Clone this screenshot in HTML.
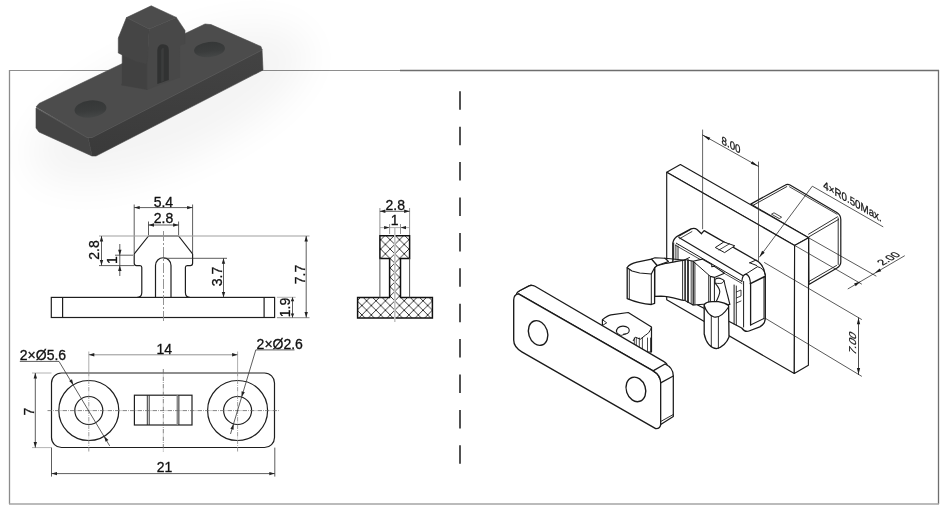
<!DOCTYPE html><html><head><meta charset="utf-8"><style>html,body{margin:0;padding:0;background:#fff;overflow:hidden}svg{display:block;will-change:transform}</style></head><body><svg width="952" height="518" viewBox="0 0 952 518"><rect x="0" y="0" width="952" height="518" fill="#fff"/><line x1="9.5" y1="70" x2="9.5" y2="504" stroke="#8c8c8c" stroke-width="1.3"/><line x1="9" y1="70.5" x2="400" y2="70.5" stroke="#8e8e8e" stroke-width="1.2"/><line x1="400" y1="70.5" x2="939" y2="70.5" stroke="#6e6e6e" stroke-width="1.3"/><line x1="938.5" y1="70" x2="938.5" y2="504" stroke="#6e6e6e" stroke-width="1.3"/><line x1="9" y1="503.9" x2="939" y2="503.9" stroke="#a4a4a4" stroke-width="1.5"/><defs><filter id="blur8" x="-50%" y="-50%" width="200%" height="200%"><feGaussianBlur stdDeviation="20"/></filter><linearGradient id="pf" x1="0" y1="0" x2="0" y2="1"><stop offset="0" stop-color="#434343"/><stop offset="1" stop-color="#3a3a3a"/></linearGradient><linearGradient id="hole" x1="0" y1="0" x2="0" y2="1"><stop offset="0" stop-color="#353737"/><stop offset="0.6" stop-color="#3a3c3c"/><stop offset="1" stop-color="#454747"/></linearGradient></defs><ellipse cx="170" cy="105" rx="150" ry="55" fill="#000" opacity="0.045" filter="url(#blur8)" transform="rotate(-24 170 105)"/><g><polygon points="36,108 88,137 92,156 39,132 36,128" fill="#444444" stroke="#444444" stroke-width="0.6" stroke-linejoin="round"/><polygon points="88,137 262,49 263,70 96,156 92,156" fill="url(#pf)" stroke="#434343" stroke-width="0.6"/><polygon points="36,107 39,103.5 205,24 211,24.6 261,46.5 262,50 92,137 87,137" fill="#4c4c4c" stroke="#4c4c4c" stroke-width="0.6" stroke-linejoin="round"/><polyline points="37,108.5 87,137.5 92,137.5 262,50" fill="none" stroke="#595959" stroke-width="0.9"/><ellipse cx="90.5" cy="109" rx="16" ry="8.6" fill="url(#hole)" transform="rotate(-6 90.5 109)"/><ellipse cx="209.5" cy="49.5" rx="15.5" ry="7.6" fill="url(#hole)" transform="rotate(-6 209.5 49.5)"/><polygon points="122.2,52 147.2,58 147.2,89.5 121.5,85 122.2,83" fill="#414141" stroke="#414141" stroke-width="0.6" stroke-linejoin="round"/><polygon points="149.2,29 176.3,17.4 185,30.5 185,43.5 180,45.5 179.6,77.3 147.2,89.5 147.2,60" fill="#484848" stroke="#484848" stroke-width="0.6" stroke-linejoin="round"/><polygon points="126.5,17.6 149.2,29 147.5,59 146,63.8 135,61 118.3,53 118.3,38" fill="#454545" stroke="#454545" stroke-width="0.6" stroke-linejoin="round"/><polygon points="126.5,17.6 151.2,5.8 176.3,17.4 149.2,29" fill="#4c4c4c" stroke="#4c4c4c" stroke-width="0.6" stroke-linejoin="round"/><path d="M157.3,84 L157.3,50 Q157.8,44.2 163,44.2 Q168.8,44.4 168.8,50 L168.8,80 Z" fill="#313232"/><path d="M161.2,82 L161.2,50 Q162,47.5 163.8,48.2 L163.8,81 Z" fill="#3b3c3c"/></g><line x1="460" y1="91.3" x2="460" y2="464.5" stroke="#4a4a4a" stroke-width="1.9" stroke-dasharray="18.5 16.9"/><g><path d="M136.7,297.5 Q141.8,297.5 141.8,292.5 L141.8,267.5 Q141.8,265.6 140,265.6 L136.5,265.6 Q134.2,265.6 134.2,263.3 L134.2,254 L148.5,236 L178.6,236 L192.6,254 L192.6,263.3 Q192.6,265.6 190.3,265.6 L187.2,265.6 Q185.4,265.6 185.4,267.5 L185.4,292.5 Q185.4,297.5 190.4,297.5" fill="none" stroke="#1e1e1e" stroke-width="1.2"/><path d="M155.5,297.5 L155.5,265.5 A7.75,7.75 0 0 1 171,265.5 L171,297.5" fill="none" stroke="#1e1e1e" stroke-width="1.2"/><rect x="51.3" y="297.4" width="223.3" height="20.1" fill="none" stroke="#1e1e1e" stroke-width="1.2"/><line x1="62.60" y1="297.40" x2="62.60" y2="317.50" stroke="#1e1e1e" stroke-width="1.2" /><line x1="264.10" y1="297.40" x2="264.10" y2="317.50" stroke="#1e1e1e" stroke-width="1.2" /><line x1="163.50" y1="231.00" x2="163.50" y2="322.00" stroke="#888" stroke-width="0.9" stroke-dasharray="10 2 2 2"/><line x1="134.20" y1="204.50" x2="134.20" y2="253.00" stroke="#333" stroke-width="0.8" /><line x1="192.60" y1="204.50" x2="192.60" y2="253.00" stroke="#333" stroke-width="0.8" /><line x1="134.20" y1="207.60" x2="192.60" y2="207.60" stroke="#333" stroke-width="0.8" /><polygon points="134.20,207.60 139.70,205.90 139.70,209.30" fill="#222"/><polygon points="192.60,207.60 187.10,209.30 187.10,205.90" fill="#222"/><text x="163.4" y="206.8" font-size="14" text-anchor="middle" font-family="Liberation Sans, sans-serif" fill="#111" stroke="#111" stroke-width="0.3" >5.4</text><line x1="148.50" y1="221.50" x2="148.50" y2="235.00" stroke="#333" stroke-width="0.8" /><line x1="178.60" y1="221.50" x2="178.60" y2="235.00" stroke="#333" stroke-width="0.8" /><line x1="148.50" y1="225.00" x2="178.60" y2="225.00" stroke="#333" stroke-width="0.8" /><polygon points="148.50,225.00 154.00,223.30 154.00,226.70" fill="#222"/><polygon points="178.60,225.00 173.10,226.70 173.10,223.30" fill="#222"/><text x="163.5" y="222.6" font-size="14" text-anchor="middle" font-family="Liberation Sans, sans-serif" fill="#111" stroke="#111" stroke-width="0.3" >2.8</text><line x1="99.00" y1="236.00" x2="309.50" y2="236.00" stroke="#a0a0a0" stroke-width="1.1" /><line x1="99.00" y1="265.60" x2="134.00" y2="265.60" stroke="#333" stroke-width="0.8" /><line x1="101.50" y1="236.00" x2="101.50" y2="265.60" stroke="#333" stroke-width="0.8" /><polygon points="101.50,236.00 103.20,241.50 99.80,241.50" fill="#222"/><polygon points="101.50,265.60 99.80,260.10 103.20,260.10" fill="#222"/><text x="0" y="0" font-size="14" text-anchor="middle" font-family="Liberation Sans, sans-serif" fill="#111" stroke="#111" stroke-width="0.3" transform="translate(99.3,250) rotate(-90)">2.8</text><line x1="115.00" y1="255.20" x2="133.00" y2="255.20" stroke="#333" stroke-width="0.8" /><line x1="119.80" y1="244.00" x2="119.80" y2="276.00" stroke="#333" stroke-width="0.8" /><polygon points="119.80,255.20 118.10,249.70 121.50,249.70" fill="#222"/><polygon points="119.80,265.60 121.50,271.10 118.10,271.10" fill="#222"/><text x="0" y="0" font-size="14" text-anchor="middle" font-family="Liberation Sans, sans-serif" fill="#111" stroke="#111" stroke-width="0.3" transform="translate(116.8,260) rotate(-90)">1</text><line x1="163.50" y1="258.30" x2="227.00" y2="258.30" stroke="#333" stroke-width="0.8" /><line x1="223.50" y1="258.30" x2="223.50" y2="297.50" stroke="#333" stroke-width="0.8" /><polygon points="223.50,258.30 225.20,263.80 221.80,263.80" fill="#222"/><polygon points="223.50,297.50 221.80,292.00 225.20,292.00" fill="#222"/><text x="0" y="0" font-size="14" text-anchor="middle" font-family="Liberation Sans, sans-serif" fill="#111" stroke="#111" stroke-width="0.3" transform="translate(222.2,276.5) rotate(-90)">3.7</text><line x1="276.90" y1="317.60" x2="309.50" y2="317.60" stroke="#a0a0a0" stroke-width="1.1" /><line x1="306.20" y1="236.00" x2="306.20" y2="317.60" stroke="#333" stroke-width="0.8" /><polygon points="306.20,236.00 307.90,241.50 304.50,241.50" fill="#222"/><polygon points="306.20,317.60 304.50,312.10 307.90,312.10" fill="#222"/><text x="0" y="0" font-size="14" text-anchor="middle" font-family="Liberation Sans, sans-serif" fill="#111" stroke="#111" stroke-width="0.3" transform="translate(304.6,274.5) rotate(-90)">7.7</text><line x1="276.90" y1="297.30" x2="295.60" y2="297.30" stroke="#a0a0a0" stroke-width="0.8" /><line x1="292.50" y1="297.30" x2="292.50" y2="317.60" stroke="#333" stroke-width="0.8" /><polygon points="292.50,297.30 294.20,301.30 290.80,301.30" fill="#222"/><polygon points="292.50,317.60 290.80,313.60 294.20,313.60" fill="#222"/><text x="0" y="0" font-size="14" text-anchor="middle" font-family="Liberation Sans, sans-serif" fill="#111" stroke="#111" stroke-width="0.3" transform="translate(289.6,307.5) rotate(-90)">1.9</text></g><g><defs><pattern id="hatch" patternUnits="userSpaceOnUse" width="9.4" height="9.4"><path d="M0,0 L9.4,9.4 M9.4,0 L0,9.4" stroke="#222" stroke-width="0.9"/></pattern></defs><path d="M379.9,235.8 L409.6,235.8 L409.6,258.4 L400.5,258.4 L400.5,297.4 L432.4,297.4 L432.4,317.9 L357.6,317.9 L357.6,297.4 L389.6,297.4 L389.6,258.4 L379.9,258.4 Z" fill="url(#hatch)" stroke="#111" stroke-width="1.5"/><line x1="379.90" y1="258.40" x2="379.90" y2="297.40" stroke="#555" stroke-width="1.0" /><line x1="409.60" y1="258.40" x2="409.60" y2="297.40" stroke="#555" stroke-width="1.0" /><line x1="394.80" y1="228.00" x2="394.80" y2="322.00" stroke="#c4c4c4" stroke-width="1.6" /><line x1="379.90" y1="208.00" x2="379.90" y2="235.00" stroke="#777" stroke-width="0.8" /><line x1="409.60" y1="208.00" x2="409.60" y2="235.00" stroke="#777" stroke-width="0.8" /><line x1="379.90" y1="211.30" x2="409.60" y2="211.30" stroke="#333" stroke-width="0.8" /><polygon points="379.90,211.30 385.40,209.60 385.40,213.00" fill="#222"/><polygon points="409.60,211.30 404.10,213.00 404.10,209.60" fill="#222"/><text x="395.2" y="209.8" font-size="14" text-anchor="middle" font-family="Liberation Sans, sans-serif" fill="#111" stroke="#111" stroke-width="0.3" >2.8</text><line x1="389.60" y1="224.00" x2="389.60" y2="234.00" stroke="#777" stroke-width="0.8" /><line x1="400.50" y1="224.00" x2="400.50" y2="234.00" stroke="#777" stroke-width="0.8" /><line x1="380.00" y1="227.60" x2="409.60" y2="227.60" stroke="#999" stroke-width="0.8" /><polygon points="389.60,227.60 384.10,229.30 384.10,225.90" fill="#222"/><polygon points="400.50,227.60 406.00,225.90 406.00,229.30" fill="#222"/><text x="394.6" y="224.5" font-size="14" text-anchor="middle" font-family="Liberation Sans, sans-serif" fill="#111" stroke="#111" stroke-width="0.3" >1</text></g><g><rect x="51.5" y="373" width="223" height="74.5" rx="10" fill="none" stroke="#1e1e1e" stroke-width="1.2"/><circle cx="88.8" cy="410.5" r="30" fill="none" stroke="#1e1e1e" stroke-width="1.2"/><circle cx="88.8" cy="410.5" r="14" fill="none" stroke="#1e1e1e" stroke-width="1.2"/><circle cx="237.6" cy="410.5" r="30" fill="none" stroke="#1e1e1e" stroke-width="1.2"/><circle cx="237.6" cy="410.5" r="14" fill="none" stroke="#1e1e1e" stroke-width="1.2"/><rect x="134.4" y="395.2" width="57.6" height="29.8" fill="none" stroke="#1e1e1e" stroke-width="1.2"/><line x1="147.30" y1="395.20" x2="147.30" y2="425.00" stroke="#1e1e1e" stroke-width="0.9" /><line x1="149.20" y1="395.20" x2="149.20" y2="425.00" stroke="#1e1e1e" stroke-width="0.9" /><line x1="177.40" y1="395.20" x2="177.40" y2="425.00" stroke="#8a8a8a" stroke-width="1.7" /><line x1="178.90" y1="395.20" x2="178.90" y2="425.00" stroke="#1e1e1e" stroke-width="0.9" /><line x1="47.50" y1="410.60" x2="279.00" y2="410.60" stroke="#666" stroke-width="0.8" stroke-dasharray="4.5 1.1 0.8 1.1"/><line x1="88.80" y1="351.50" x2="88.80" y2="372.00" stroke="#999" stroke-width="0.8" /><line x1="88.80" y1="372.00" x2="88.80" y2="452.00" stroke="#888" stroke-width="0.8" stroke-dasharray="4.5 1.1 0.8 1.1"/><line x1="237.60" y1="351.50" x2="237.60" y2="372.00" stroke="#999" stroke-width="0.8" /><line x1="237.60" y1="372.00" x2="237.60" y2="452.00" stroke="#888" stroke-width="0.8" stroke-dasharray="4.5 1.1 0.8 1.1"/><line x1="163.30" y1="369.00" x2="163.30" y2="452.00" stroke="#666" stroke-width="0.8" stroke-dasharray="4.5 1.1 0.8 1.1"/><line x1="32.00" y1="373.00" x2="51.50" y2="373.00" stroke="#a0a0a0" stroke-width="0.8" /><line x1="32.00" y1="447.60" x2="51.50" y2="447.60" stroke="#a0a0a0" stroke-width="0.8" /><line x1="35.30" y1="373.00" x2="35.30" y2="447.60" stroke="#333" stroke-width="0.8" /><polygon points="35.30,373.00 37.00,378.50 33.60,378.50" fill="#222"/><polygon points="35.30,447.60 33.60,442.10 37.00,442.10" fill="#222"/><text x="0" y="0" font-size="14" text-anchor="middle" font-family="Liberation Sans, sans-serif" fill="#111" stroke="#111" stroke-width="0.3" transform="translate(34.3,411.5) rotate(-90)">7</text><line x1="88.80" y1="354.80" x2="237.60" y2="354.80" stroke="#888" stroke-width="0.9" /><polygon points="88.80,354.80 94.30,353.10 94.30,356.50" fill="#222"/><polygon points="237.60,354.80 232.10,356.50 232.10,353.10" fill="#222"/><text x="164.3" y="353.7" font-size="14" text-anchor="middle" font-family="Liberation Sans, sans-serif" fill="#111" stroke="#111" stroke-width="0.3" >14</text><line x1="51.50" y1="447.60" x2="51.50" y2="476.60" stroke="#333" stroke-width="0.8" /><line x1="274.80" y1="447.60" x2="274.80" y2="476.60" stroke="#333" stroke-width="0.8" /><line x1="51.50" y1="473.60" x2="274.80" y2="473.60" stroke="#333" stroke-width="0.8" /><polygon points="51.50,473.60 57.00,471.90 57.00,475.30" fill="#222"/><polygon points="274.80,473.60 269.30,475.30 269.30,471.90" fill="#222"/><text x="164.6" y="471.5" font-size="14" text-anchor="middle" font-family="Liberation Sans, sans-serif" fill="#111" stroke="#111" stroke-width="0.3" >21</text><text x="19.8" y="360" font-size="14" text-anchor="start" font-family="Liberation Sans, sans-serif" fill="#111" stroke="#111" stroke-width="0.3" >2×Ø5.6</text><line x1="19.80" y1="361.40" x2="59.00" y2="361.40" stroke="#333" stroke-width="0.8" /><line x1="59.00" y1="361.40" x2="109.70" y2="445.90" stroke="#333" stroke-width="0.8" /><polygon points="73.40,384.80 69.12,380.96 72.03,379.21" fill="#222"/><polygon points="104.20,436.20 108.48,440.04 105.57,441.79" fill="#222"/><text x="256.6" y="348.7" font-size="14" text-anchor="start" font-family="Liberation Sans, sans-serif" fill="#111" stroke="#111" stroke-width="0.3" >2×Ø2.6</text><line x1="255.80" y1="349.90" x2="294.50" y2="349.90" stroke="#333" stroke-width="0.8" /><line x1="255.80" y1="349.90" x2="230.50" y2="434.00" stroke="#333" stroke-width="0.8" /><polygon points="241.60,397.10 241.56,391.34 244.81,392.32" fill="#222"/><polygon points="233.60,423.90 233.64,429.66 230.39,428.68" fill="#222"/></g><g><path d="M750.7,204.1 L785,185.2 Q787.5,183.6 790,185 L836.8,212.4 Q840.8,214.8 840.8,219.5 L840.8,262 Q840.8,265.6 837,268 L808.9,284.5 L808.6,237.8 Z" fill="#fff" stroke="#1a1a1a" stroke-width="1.20" stroke-linejoin="round"/><polyline points="752.20,205.80 786.80,186.60" fill="none" stroke="#1a1a1a" stroke-width="0.90" stroke-linejoin="round" stroke-linecap="round" /><polyline points="789.50,186.80 837.00,214.20" fill="none" stroke="#1a1a1a" stroke-width="0.80" stroke-linejoin="round" stroke-linecap="round" /><polyline points="808.60,234.20 837.50,216.80" fill="none" stroke="#1a1a1a" stroke-width="0.90" stroke-linejoin="round" stroke-linecap="round" /><polyline points="808.60,237.00 838.50,219.50" fill="none" stroke="#1a1a1a" stroke-width="0.90" stroke-linejoin="round" stroke-linecap="round" /><polyline points="838.20,218.00 838.20,264.50" fill="none" stroke="#1a1a1a" stroke-width="0.90" stroke-linejoin="round" stroke-linecap="round" /><polyline points="808.90,281.50 836.50,265.50" fill="none" stroke="#1a1a1a" stroke-width="0.90" stroke-linejoin="round" stroke-linecap="round" /><path d="M771.5,214.2 L774,212.8 L781.6,217.2 L779.3,218.6 Z" fill="#fff" stroke="#1a1a1a" stroke-width="0.80" stroke-linejoin="round"/><path d="M666.7,172.3 L680.4,164.6 L808.6,237.8 L794.6,245.4 Z" fill="#fff" stroke="#1a1a1a" stroke-width="1.15" stroke-linejoin="round"/><path d="M666.7,172.3 L794.6,245.4 L794.3,373.5 L666.7,299.8 Z" fill="#fff" stroke="#1a1a1a" stroke-width="1.15" stroke-linejoin="round"/><path d="M794.6,245.4 L808.6,237.8 L808.4,365.2 L794.3,373.5 Z" fill="#fff" stroke="#1a1a1a" stroke-width="1.15" stroke-linejoin="round"/><polyline points="702.60,130.00 702.60,228.80" fill="none" stroke="#333" stroke-width="0.75" stroke-linejoin="round" stroke-linecap="round" /><polyline points="758.50,162.00 758.50,260.40" fill="none" stroke="#333" stroke-width="0.75" stroke-linejoin="round" stroke-linecap="round" /><polyline points="702.60,135.00 758.50,166.40" fill="none" stroke="#222" stroke-width="0.75" stroke-linejoin="round" stroke-linecap="round" /><polygon points="702.60,135.00 710.26,137.70 708.89,140.14" fill="#1a1a1a"/><polygon points="758.50,166.40 750.84,163.70 752.21,161.26" fill="#1a1a1a"/><text font-family="Liberation Sans, sans-serif" font-size="11.5" fill="#111" stroke="#111" stroke-width="0.25" text-anchor="middle" transform="translate(731,148.8) skewY(28.5) scale(0.85,1)">8.00</text><polyline points="759.50,257.00 812.30,186.20 882.90,226.70" fill="none" stroke="#222" stroke-width="0.75" stroke-linejoin="round" stroke-linecap="round" /><polygon points="759.50,257.00 762.10,250.83 764.67,252.75" fill="#1a1a1a"/><text font-family="Liberation Sans, sans-serif" font-size="11.5" fill="#111" stroke="#111" stroke-width="0.25" text-anchor="middle" transform="translate(852.5,205.3) skewY(29.8) scale(0.85,1)">4×R0.50Max.</text><polyline points="808.60,237.80 876.00,276.00" fill="none" stroke="#222" stroke-width="0.75" stroke-linejoin="round" stroke-linecap="round" /><polyline points="794.60,245.40 861.50,284.00" fill="none" stroke="#222" stroke-width="0.75" stroke-linejoin="round" stroke-linecap="round" /><polyline points="848.10,288.80 904.40,255.90" fill="none" stroke="#222" stroke-width="0.75" stroke-linejoin="round" stroke-linecap="round" /><polygon points="860.50,281.50 855.69,286.16 854.08,283.40" fill="#1a1a1a"/><polygon points="874.80,273.10 879.61,268.44 881.22,271.20" fill="#1a1a1a"/><text font-family="Liberation Sans, sans-serif" font-size="11.5" fill="#111" stroke="#111" stroke-width="0.25" text-anchor="middle" transform="matrix(0.866,-0.5,0.866,0.5,892,260.5) scale(0.95,1)">2.00</text><polyline points="764.50,262.60 861.50,319.40" fill="none" stroke="#222" stroke-width="0.75" stroke-linejoin="round" stroke-linecap="round" /><polyline points="764.50,317.80 861.50,376.20" fill="none" stroke="#222" stroke-width="0.75" stroke-linejoin="round" stroke-linecap="round" /><polyline points="858.50,317.80 858.50,374.60" fill="none" stroke="#222" stroke-width="0.80" stroke-linejoin="round" stroke-linecap="round" /><polygon points="858.50,317.80 860.10,324.30 856.90,324.30" fill="#1a1a1a"/><polygon points="858.50,374.60 856.90,368.10 860.10,368.10" fill="#1a1a1a"/><text font-family="Liberation Sans, sans-serif" font-size="11.5" fill="#111" stroke="#111" stroke-width="0.25" text-anchor="middle" transform="matrix(0,-1,0.866,0.5,855.8,344.8) scale(0.95,1)">7.00</text><path d="M672.8,292 L672.8,243 Q673.5,238 678.9,235.4 L691,228.9 Q694.5,227.5 697,229.5 L701.5,233.7 L704.1,230.6 L755.8,260.2 Q763.6,264 765.3,275 L765.3,318 Q765.3,324 759.8,326.9 L749,331 Q744.9,332.5 741.7,328 Z" fill="#fff" stroke="#1a1a1a" stroke-width="1.30" stroke-linejoin="round"/><polyline points="749.70,262.80 755.80,260.20" fill="none" stroke="#1a1a1a" stroke-width="1.00" stroke-linejoin="round" stroke-linecap="round" /><polyline points="749.70,262.80 756.70,265.50" fill="none" stroke="#1a1a1a" stroke-width="1.00" stroke-linejoin="round" stroke-linecap="round" /><polyline points="678.90,237.60 742.80,275.40" fill="none" stroke="#1a1a1a" stroke-width="1.20" stroke-linejoin="round" stroke-linecap="round" /><polyline points="676.30,243.20 741.90,281.50" fill="none" stroke="#1a1a1a" stroke-width="1.00" stroke-linejoin="round" stroke-linecap="round" /><polyline points="675.40,245.20 741.90,283.50" fill="none" stroke="#1a1a1a" stroke-width="0.80" stroke-linejoin="round" stroke-linecap="round" /><polyline points="678.90,236.30 691.00,229.30" fill="none" stroke="#1a1a1a" stroke-width="0.90" stroke-linejoin="round" stroke-linecap="round" /><polyline points="679.80,238.60 691.90,231.60" fill="none" stroke="#1a1a1a" stroke-width="0.80" stroke-linejoin="round" stroke-linecap="round" /><path d="M741.9,281.5 Q742.2,274.8 745.8,274.1 Q750.2,275 750.6,285" fill="none" stroke="#1a1a1a" stroke-width="1.20" stroke-linejoin="round"/><polyline points="745.80,274.10 757.50,266.70" fill="none" stroke="#1a1a1a" stroke-width="1.00" stroke-linejoin="round" stroke-linecap="round" /><path d="M757.5,266.7 Q763.8,268 765.3,275" fill="none" stroke="#1a1a1a" stroke-width="1.00" stroke-linejoin="round"/><polyline points="750.40,283.60 764.50,276.70" fill="none" stroke="#1a1a1a" stroke-width="1.60" stroke-linejoin="round" stroke-linecap="round" /><polyline points="743.60,281.50 743.60,327.00" fill="none" stroke="#1a1a1a" stroke-width="1.00" stroke-linejoin="round" stroke-linecap="round" /><polyline points="750.60,285.00 750.60,325.00" fill="none" stroke="#1a1a1a" stroke-width="1.30" stroke-linejoin="round" stroke-linecap="round" /><polyline points="764.00,277.00 764.00,318.40" fill="none" stroke="#1a1a1a" stroke-width="1.00" stroke-linejoin="round" stroke-linecap="round" /><polyline points="750.60,325.00 764.00,318.40" fill="none" stroke="#1a1a1a" stroke-width="1.10" stroke-linejoin="round" stroke-linecap="round" /><polyline points="673.70,243.00 673.70,260.00" fill="none" stroke="#1a1a1a" stroke-width="1.00" stroke-linejoin="round" stroke-linecap="round" /><polyline points="675.90,245.00 675.90,260.00" fill="none" stroke="#1a1a1a" stroke-width="0.90" stroke-linejoin="round" stroke-linecap="round" /><polyline points="678.00,246.00 678.00,260.00" fill="none" stroke="#1a1a1a" stroke-width="0.90" stroke-linejoin="round" stroke-linecap="round" /><path d="M715.3,247.5 L723.8,242 L734.8,245.8 L724.6,252.6 Z" fill="#fff" stroke="#1a1a1a" stroke-width="1.00" stroke-linejoin="round"/><polyline points="719.00,250.00 729.50,243.80" fill="none" stroke="#1a1a1a" stroke-width="0.80" stroke-linejoin="round" stroke-linecap="round" /><polyline points="734.10,285.00 734.10,324.00" fill="none" stroke="#1a1a1a" stroke-width="1.00" stroke-linejoin="round" stroke-linecap="round" /><polyline points="736.30,286.00 736.30,325.00" fill="none" stroke="#1a1a1a" stroke-width="0.90" stroke-linejoin="round" stroke-linecap="round" /><polyline points="736.30,292.00 741.00,290.00 741.00,296.00 736.30,298.00" fill="none" stroke="#1a1a1a" stroke-width="0.80" stroke-linejoin="round" stroke-linecap="round" /><polyline points="736.30,303.00 741.00,301.00" fill="none" stroke="#1a1a1a" stroke-width="0.80" stroke-linejoin="round" stroke-linecap="round" /><path d="M693.1,261.2 L702.2,259.1 L711.8,264.6 L711.8,266.7 L714,266.1 L724.5,273.3 L714.4,277.4 L710.3,276.4 L710.3,303.8 L693.1,305 Z" fill="#fff" stroke="#1a1a1a" stroke-width="1.10" stroke-linejoin="round"/><polyline points="693.10,261.20 710.30,276.40" fill="none" stroke="#1a1a1a" stroke-width="1.00" stroke-linejoin="round" stroke-linecap="round" /><polyline points="694.90,263.00 694.90,305.00" fill="none" stroke="#1a1a1a" stroke-width="0.90" stroke-linejoin="round" stroke-linecap="round" /><polyline points="708.60,275.50 708.60,303.00" fill="none" stroke="#1a1a1a" stroke-width="0.80" stroke-linejoin="round" stroke-linecap="round" /><polyline points="714.40,277.40 714.40,303.80" fill="none" stroke="#1a1a1a" stroke-width="1.00" stroke-linejoin="round" stroke-linecap="round" /><path d="M685,259.5 L693.1,261.2 L693.1,305 L685,300.5 Z" fill="#fff" stroke="#1a1a1a" stroke-width="1.10" stroke-linejoin="round"/><polyline points="688.00,260.00 688.00,302.00" fill="none" stroke="#1a1a1a" stroke-width="1.70" stroke-linejoin="round" stroke-linecap="round" /><polyline points="691.20,261.00 691.20,303.50" fill="none" stroke="#1a1a1a" stroke-width="0.80" stroke-linejoin="round" stroke-linecap="round" /><path d="M715,279.4 C717,278 719,278 720.3,278.4 C722,279 723.5,279.5 724,280.5 C725,286 726.5,291 727.5,295 L729.9,304.5 L715,304 C717,300 719.8,295 719.8,291.6 C719.5,288 717,285.5 715,283.1 Z" fill="#fff" stroke="#1a1a1a" stroke-width="1.10" stroke-linejoin="round"/><path d="M715,283.1 C718,283.6 721,283.6 722,283.1 C723,282.5 723.8,281.5 724,280.5" fill="none" stroke="#1a1a1a" stroke-width="0.90" stroke-linejoin="round"/><path d="M704.2,304.8 C705.5,302.5 708,301.9 712,301.7 L718.4,301.7 C722,302.3 725.5,303.2 728.6,305.5 L729,337 C727,342.5 722,347.8 716.5,348.6 C711,348 706,343 704.2,334 Z" fill="#fff" stroke="#1a1a1a" stroke-width="1.30" stroke-linejoin="round"/><path d="M704.2,305.5 C706,311 709.5,315.5 714,317 C719,318 724,314 728.6,307" fill="none" stroke="#1a1a1a" stroke-width="1.20" stroke-linejoin="round"/><polyline points="711.30,315.50 711.30,346.80" fill="none" stroke="#1a1a1a" stroke-width="0.90" stroke-linejoin="round" stroke-linecap="round" /><polyline points="718.40,317.20 718.40,348.40" fill="none" stroke="#1a1a1a" stroke-width="0.90" stroke-linejoin="round" stroke-linecap="round" /><path d="M654.6,266.2 C659,265 663,263.8 667.7,263.2 C673,262 679,261 684,260.1 L685,260.1 L685,300 L684,300.4 C676,298.6 668,296.3 661,296.2 L654.6,296.3 Z" fill="#fff" stroke="#1a1a1a" stroke-width="1.30" stroke-linejoin="round"/><path d="M651.5,259.1 L655,257.8 L664.7,258.2 L668.5,261.5 L657.1,265.5 Z" fill="#fff" stroke="#1a1a1a" stroke-width="1.10" stroke-linejoin="round"/><polyline points="664.70,258.20 684.00,260.10 689.50,257.50" fill="none" stroke="#1a1a1a" stroke-width="1.00" stroke-linejoin="round" stroke-linecap="round" /><polyline points="682.60,261.00 682.60,299.50" fill="none" stroke="#1a1a1a" stroke-width="0.90" stroke-linejoin="round" stroke-linecap="round" /><path d="M627.2,267.5 C629,264.8 633,263.2 637,262.2 L651.5,259.1 L657.1,265.5 L654.6,267.8 L654.6,303.3 L651.3,304.5 C643,304 634,301.5 627.2,298.7 Z" fill="#fff" stroke="#1a1a1a" stroke-width="1.30" stroke-linejoin="round"/><polyline points="627.20,267.80 632.00,271.00 639.70,273.00 651.30,274.00 654.60,267.80" fill="none" stroke="#1a1a1a" stroke-width="1.20" stroke-linejoin="round" stroke-linecap="round" /><polyline points="651.30,274.00 651.30,304.50" fill="none" stroke="#1a1a1a" stroke-width="1.00" stroke-linejoin="round" stroke-linecap="round" /><polyline points="629.30,269.50 629.30,299.50" fill="none" stroke="#1a1a1a" stroke-width="0.90" stroke-linejoin="round" stroke-linecap="round" /><path d="M602.4,325.5 L602.4,319.7 C606,316.8 609,315.2 611,314.9 L628.2,312.5 L651.5,327.1 L651.5,352 L600,352 Z" fill="#fff" stroke="#1a1a1a" stroke-width="1.20" stroke-linejoin="round"/><polyline points="602.40,319.70 606.70,322.80 602.40,325.50" fill="none" stroke="#1a1a1a" stroke-width="0.90" stroke-linejoin="round" stroke-linecap="round" /><path d="M616.5,332.5 C616,328.5 619,326 623.1,326.1 C627.5,326.2 629.6,328.5 629.2,331 C628.8,333.5 626,334.2 623,334.2" fill="none" stroke="#1a1a1a" stroke-width="1.1"/><polyline points="617.00,333.00 621.00,335.50 625.50,334.00" fill="none" stroke="#1a1a1a" stroke-width="0.80" stroke-linejoin="round" stroke-linecap="round" /><path d="M651.5,327.1 C650.5,331 648,334 645.4,335.2 L640.4,339.2 L635.3,337.2 L633,341" fill="none" stroke="#1a1a1a" stroke-width="1.00" stroke-linejoin="round"/><polyline points="617.20,333.00 617.20,352.00" fill="none" stroke="#1a1a1a" stroke-width="0.80" stroke-linejoin="round" stroke-linecap="round" /><polyline points="634.30,338.00 634.30,352.00" fill="none" stroke="#1a1a1a" stroke-width="0.80" stroke-linejoin="round" stroke-linecap="round" /><polyline points="636.30,338.00 636.30,352.00" fill="none" stroke="#1a1a1a" stroke-width="0.80" stroke-linejoin="round" stroke-linecap="round" /><polyline points="639.30,338.00 639.30,352.00" fill="none" stroke="#1a1a1a" stroke-width="0.80" stroke-linejoin="round" stroke-linecap="round" /><polyline points="642.40,338.00 642.40,352.00" fill="none" stroke="#1a1a1a" stroke-width="0.80" stroke-linejoin="round" stroke-linecap="round" /><polyline points="647.50,338.00 647.50,352.00" fill="none" stroke="#1a1a1a" stroke-width="0.80" stroke-linejoin="round" stroke-linecap="round" /><polyline points="650.50,338.00 650.50,352.00" fill="none" stroke="#1a1a1a" stroke-width="0.80" stroke-linejoin="round" stroke-linecap="round" /><path d="M516.5,297 Q515.5,292.5 519.5,290.8 L529,285.9 Q532,284.5 535,286.2 L664,361.6 Q667.5,363.5 667.5,367 L653.1,370.9 L518.5,293.8 Z" fill="#fff" stroke="#1a1a1a" stroke-width="1.25" stroke-linejoin="round"/><path d="M513.7,300 Q513.7,294.5 518.5,293.8 L653.1,370.9 Q660.7,375.2 660.7,383 L660.7,424 Q660.7,428.8 655.7,428.6 L521.8,351.8 Q513.7,347 513.7,340 Z" fill="#fff" stroke="#1a1a1a" stroke-width="1.35" stroke-linejoin="round"/><path d="M653.1,370.9 L665,364 Q673.3,367.5 673.3,376 L673.3,416.5 L660.7,424.5 L660.7,383 Q660.7,375.2 653.1,370.9 Z" fill="#fff" stroke="#1a1a1a" stroke-width="1.25" stroke-linejoin="round"/><polyline points="660.70,382.90 673.30,376.00" fill="none" stroke="#1a1a1a" stroke-width="1.20" stroke-linejoin="round" stroke-linecap="round" /><polyline points="660.70,421.50 673.30,414.50" fill="none" stroke="#1a1a1a" stroke-width="0.90" stroke-linejoin="round" stroke-linecap="round" /><polyline points="519.50,291.00 531.00,284.80" fill="none" stroke="#1a1a1a" stroke-width="0.90" stroke-linejoin="round" stroke-linecap="round" /><ellipse cx="538.1" cy="333" rx="9.4" ry="12.6" transform="rotate(-18 538.1 333)" fill="none" stroke="#1a1a1a" stroke-width="1.4"/><ellipse cx="635.9" cy="389.4" rx="9.6" ry="12.5" transform="rotate(-18 635.9 389.4)" fill="none" stroke="#1a1a1a" stroke-width="1.4"/></g></svg></body></html>
